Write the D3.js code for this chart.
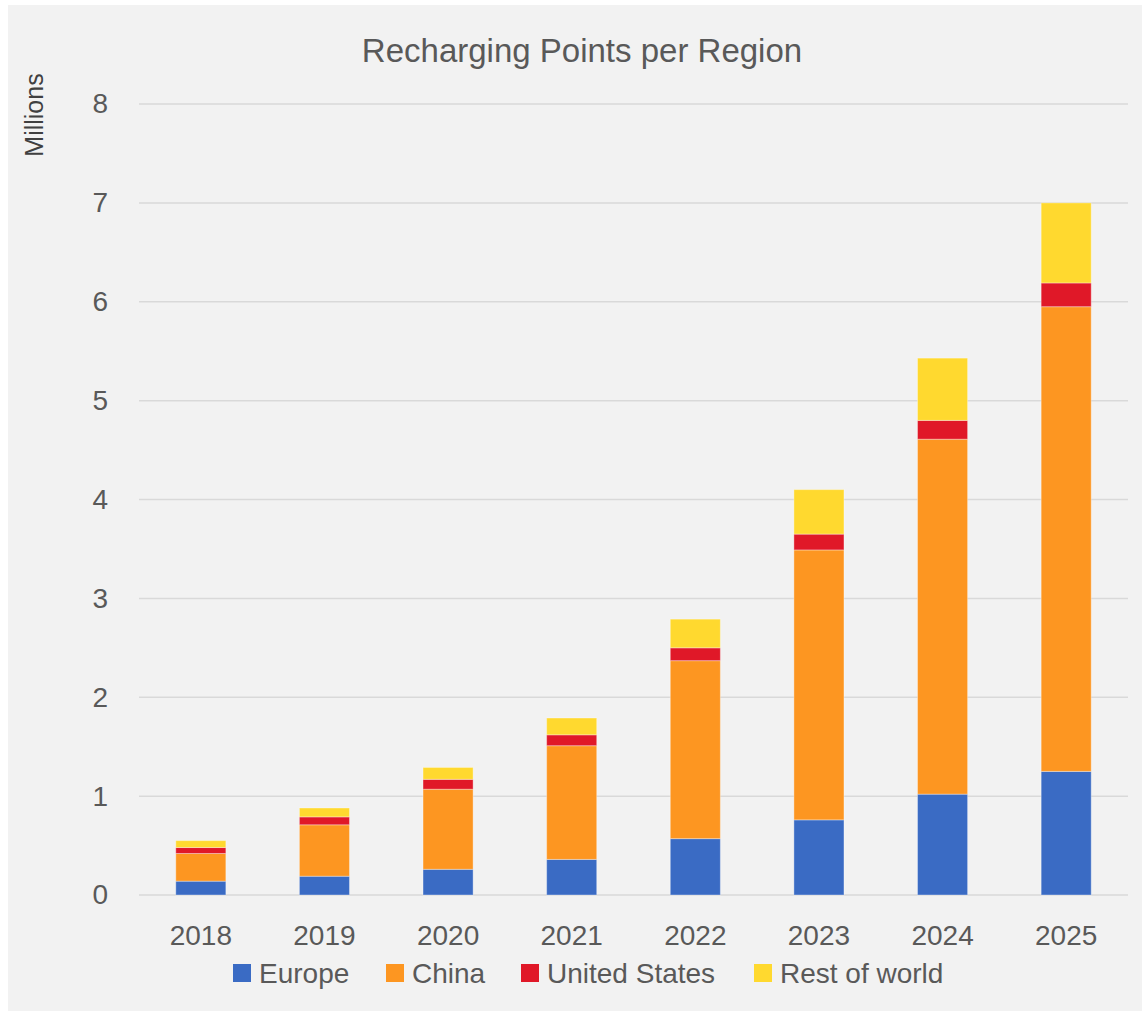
<!DOCTYPE html>
<html>
<head>
<meta charset="utf-8">
<script src="https://cdn.jsdelivr.net/npm/d3@7"></script>
<style>
  html, body { margin: 0; padding: 0; background: #ffffff; }
  svg { display: block; }
  text { font-family: "Liberation Sans", Arial, sans-serif; }
</style>
</head>
<body>
<script>
// Recharging points per region, millions
const years = ["2018", "2019", "2020", "2021", "2022", "2023", "2024", "2025"];
const europe       = [0.14, 0.19, 0.26, 0.36, 0.57, 0.76, 1.02, 1.25];
const china        = [0.28, 0.52, 0.81, 1.15, 1.80, 2.73, 3.59, 4.70];
const unitedStates = [0.06, 0.08, 0.10, 0.11, 0.13, 0.16, 0.19, 0.24];
const restOfWorld  = [0.07, 0.09, 0.12, 0.17, 0.29, 0.45, 0.63, 0.81];
const seriesNames  = ["Europe", "China", "United States", "Rest of world"];
const seriesColors = ["#3a6bc4", "#fd9621", "#e01828", "#ffd92f"];
const yTicks = [0, 1, 2, 3, 4, 5, 6, 7, 8];

const W = 1142, H = 1011;
const plot = { left: 139, right: 1128, top: 104, bottom: 895 };

const svg = d3.select("body").append("svg").attr("width", W).attr("height", H);

// chart area background
svg.append("rect")
  .attr("x", 8).attr("y", 5).attr("width", W - 8).attr("height", H - 5)
  .attr("fill", "#f2f2f2");

const x = d3.scaleBand().domain(years).range([plot.left, plot.right]).paddingInner(0.595).paddingOuter(0.2975);
const y = d3.scaleLinear().domain([0, 8]).range([plot.bottom, plot.top]);

// gridlines
svg.append("g").selectAll("line").data(yTicks).join("line")
  .attr("x1", plot.left).attr("x2", plot.right)
  .attr("y1", d => y(d)).attr("y2", d => y(d))
  .attr("stroke", "#d9d9d9").attr("stroke-width", 1.5);

// y axis labels
const yAxis = d3.axisLeft(y).tickValues(yTicks).tickSize(0).tickPadding(0).tickFormat(d3.format("d"));
const yg = svg.append("g").attr("transform", `translate(${plot.left - 31},0)`).call(yAxis);
yg.select(".domain").remove();
yg.selectAll("text").attr("font-size", 28).attr("fill", "#595959")
  .attr("font-family", "'Liberation Sans', Arial, sans-serif");

// x axis labels
const xAxis = d3.axisBottom(x).tickSize(0).tickPadding(0);
const xg = svg.append("g").attr("transform", `translate(0,${plot.bottom + 30})`).call(xAxis);
xg.select(".domain").remove();
xg.selectAll("text").attr("font-size", 28).attr("fill", "#595959")
  .attr("font-family", "'Liberation Sans', Arial, sans-serif");

// stacked bars
const rows = years.map((yr, i) => ({
  year: yr,
  "Europe": europe[i],
  "China": china[i],
  "United States": unitedStates[i],
  "Rest of world": restOfWorld[i]
}));
const stacked = d3.stack().keys(seriesNames)(rows);

svg.append("g").selectAll("g").data(stacked).join("g")
  .attr("fill", (d, i) => seriesColors[i])
  .selectAll("rect").data(d => d).join("rect")
  .attr("x", d => x(d.data.year))
  .attr("width", x.bandwidth())
  .attr("y", d => y(d[1]))
  .attr("height", d => y(d[0]) - y(d[1]))
  .attr("stroke", "rgba(255,255,255,0.35)")
  .attr("stroke-width", 1);

// title
svg.append("text")
  .attr("x", 582).attr("y", 62)
  .attr("text-anchor", "middle")
  .attr("font-size", 33).attr("fill", "#595959")
  .text("Recharging Points per Region");

// axis title
svg.append("text")
  .attr("transform", "translate(43,115) rotate(-90)")
  .attr("text-anchor", "middle")
  .attr("font-size", 25).attr("fill", "#404040")
  .text("Millions");

// legend
const legendX = [233, 386, 521, 754];
const lg = svg.append("g").selectAll("g").data(seriesNames).join("g")
  .attr("transform", (d, i) => `translate(${legendX[i]},964)`);
lg.append("rect").attr("width", 18).attr("height", 18)
  .attr("fill", (d, i) => seriesColors[i]);
lg.append("text").attr("x", 26).attr("y", 19)
  .attr("font-size", 28).attr("fill", "#595959")
  .text(d => d);
</script>
</body>
</html>
